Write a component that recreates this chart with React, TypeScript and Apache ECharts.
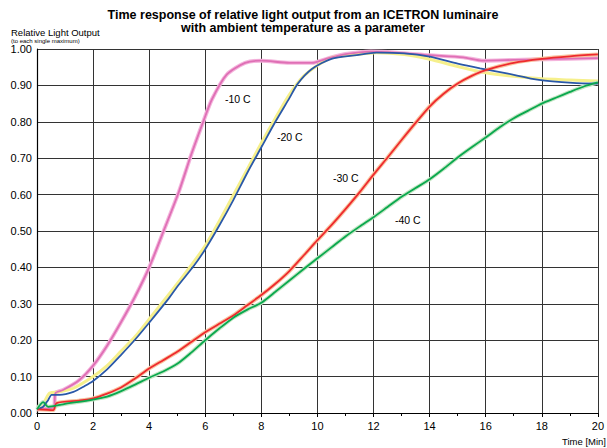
import React, { useEffect, useRef } from "react";
import * as echarts from "echarts";

// Time [min] vs relative light output
const minus10: [number, number][] = [
  [0, 0.01], [0.3, 0.012], [0.6, 0.015], [0.66, 0.055], [0.93, 0.063], [1.5, 0.09], [2, 0.13],
  [2.5, 0.185], [3, 0.25], [3.5, 0.32], [4, 0.4], [4.53, 0.503], [5.06, 0.608], [5.5, 0.71],
  [5.95, 0.805], [6.24, 0.862], [6.77, 0.93], [7.42, 0.962], [8, 0.968], [9, 0.962],
  [9.8, 0.962], [10.4, 0.975], [11, 0.986], [11.9, 0.993], [12.8, 0.99], [14, 0.983],
  [15.2, 0.977], [15.9, 0.968], [17, 0.97], [18.2, 0.972], [20, 0.975],
];
const minus20: [number, number][] = [
  [0, 0.01], [0.22, 0.017], [0.4, 0.036], [0.52, 0.05], [0.8, 0.05], [1.3, 0.058], [1.7, 0.074],
  [2, 0.088], [2.5, 0.12], [3, 0.16], [3.5, 0.202], [4, 0.248], [4.65, 0.31], [5, 0.347],
  [5.6, 0.405], [6, 0.45], [6.5, 0.515], [7, 0.585], [7.5, 0.66], [8, 0.73], [8.5, 0.8],
  [9, 0.865], [9.3, 0.905], [9.8, 0.945], [10.5, 0.973], [11.4, 0.983], [12.1, 0.99],
  [13.1, 0.988], [14, 0.979], [15, 0.96], [15.8, 0.947], [16.75, 0.933], [17.9, 0.915],
  [19.1, 0.907], [20, 0.905],
];
const minus20Raw: [number, number][] = [
  [0, 0.012], [0.25, 0.03], [0.45, 0.055], [0.8, 0.058], [1.3, 0.068], [2, 0.1], [2.5, 0.13],
  [3, 0.17], [3.5, 0.21], [4, 0.258], [5, 0.355], [6, 0.46], [7, 0.598], [8, 0.742], [8.5, 0.81],
  [9, 0.875], [9.5, 0.925], [10, 0.955], [10.5, 0.976], [11.4, 0.985], [12.1, 0.99],
  [13.1, 0.985], [14, 0.972], [15, 0.952], [16, 0.935], [17, 0.925], [18, 0.918], [19, 0.915],
  [20, 0.912],
];
const minus30: [number, number][] = [
  [0, 0.01], [0.58, 0.008], [0.7, 0.027], [1.5, 0.034], [2, 0.04], [2.5, 0.053], [3, 0.07],
  [3.5, 0.095], [4, 0.122], [4.5, 0.145], [5, 0.168], [5.5, 0.195], [6, 0.222], [6.5, 0.245],
  [7, 0.268], [7.5, 0.296], [8, 0.324], [8.5, 0.355], [9, 0.39], [9.5, 0.432], [10, 0.475],
  [10.5, 0.516], [11, 0.56], [11.5, 0.606], [12, 0.655], [12.5, 0.702], [13, 0.75], [13.5, 0.797],
  [14, 0.842], [14.5, 0.877], [15, 0.905], [15.5, 0.926], [16, 0.942], [17, 0.962], [18, 0.973],
  [19, 0.98], [20, 0.985],
];
const minus40: [number, number][] = [
  [0, 0.01], [0.22, 0.03], [0.4, 0.017], [0.93, 0.024], [2, 0.037], [2.5, 0.045], [3, 0.06],
  [3.5, 0.078], [4, 0.097], [4.5, 0.114], [5, 0.135], [5.5, 0.166], [6, 0.2], [6.5, 0.232],
  [7, 0.262], [7.5, 0.284], [8, 0.303], [8.5, 0.333], [9, 0.364], [9.5, 0.395], [10, 0.425],
  [10.5, 0.455], [11, 0.485], [11.5, 0.512], [12, 0.538], [12.5, 0.566], [13, 0.594], [13.5, 0.618],
  [14, 0.642], [14.5, 0.671], [15, 0.702], [15.5, 0.73], [16, 0.757], [16.5, 0.785], [17, 0.81],
  [17.5, 0.83], [18, 0.85], [18.5, 0.866], [19, 0.882], [19.5, 0.897], [20, 0.908],
];

const xTicks = { min: 0, max: 20, interval: 2 };
const yTicks = { min: 0, max: 1, interval: 0.1 };

const seriesLabels = [
  { text: "-10 C", x: 225, y: 99 },
  { text: "-20 C", x: 277, y: 137 },
  { text: "-30 C", x: 333, y: 178 },
  { text: "-40 C", x: 395, y: 220 },
];

const FONT = "'Liberation Sans', Arial, Helvetica, sans-serif";

function line(name: string, data: [number, number][], color: string, width: number, z: number) {
  return {
    name,
    type: "line",
    data,
    smooth: 0.25,
    showSymbol: false,
    symbol: "none",
    z,
    lineStyle: { color, width },
    emphasis: { disabled: true },
  };
}

export default function App() {
  const ref = useRef<HTMLDivElement>(null);
  useEffect(() => {
    if (!ref.current) return;
    const chart = echarts.init(ref.current, null, { renderer: "svg" });
    chart.setOption({
      animation: false,
      backgroundColor: "#ffffff",
      grid: { left: 37, right: 5, top: 49, bottom: 35 },
      xAxis: {
        type: "value",
        ...xTicks,
        axisLine: { show: true, onZero: false, lineStyle: { color: "#000", width: 1.2 } },
        axisTick: { show: true, length: 4, lineStyle: { color: "#000" } },
        minorTick: { show: true, splitNumber: 2, length: 3, lineStyle: { color: "#000" } },
        splitLine: { show: true, lineStyle: { color: "#333", width: 1 } },
        axisLabel: { color: "#000", fontSize: 11, fontFamily: FONT, margin: 7 },
      },
      yAxis: {
        type: "value",
        ...yTicks,
        axisLine: { show: true, lineStyle: { color: "#000", width: 1.2 } },
        axisTick: { show: false },
        splitLine: { show: true, lineStyle: { color: "#333", width: 1 } },
        axisLabel: {
          color: "#000",
          fontSize: 11,
          fontFamily: FONT,
          margin: 5,
          formatter: (v: number) => v.toFixed(2),
        },
      },
      series: [
        line("-10 C raw", minus10, "#f4b4dc", 4, 1),
        line("-20 C raw", minus20Raw, "#f6f08c", 3, 1),
        line("-30 C raw", minus30, "#f9c4a0", 4, 1),
        line("-40 C raw", minus40, "#c4e6c4", 4, 1),
        line("-10 C", minus10, "#df6fb5", 1.8, 3),
        line("-20 C", minus20, "#2a58a8", 1.8, 3),
        line("-30 C", minus30, "#ee2a2e", 1.8, 3),
        line("-40 C", minus40, "#0aa84e", 1.8, 3),
      ],
      graphic: [
        {
          type: "text",
          style: {
            text: "Time response of relative light output from an ICETRON luminaire",
            x: 303,
            y: 15,
            textAlign: "center",
            textVerticalAlign: "middle",
            fontSize: 12.5,
            fontWeight: "bold",
            fontFamily: FONT,
            fill: "#000",
          },
        },
        {
          type: "text",
          style: {
            text: "with ambient temperature as a parameter",
            x: 303,
            y: 28,
            textAlign: "center",
            textVerticalAlign: "middle",
            fontSize: 12.5,
            fontWeight: "bold",
            fontFamily: FONT,
            fill: "#000",
          },
        },
        {
          type: "text",
          style: {
            text: "Relative Light Output",
            x: 11,
            y: 32.5,
            textVerticalAlign: "middle",
            fontSize: 9.5,
            fontFamily: FONT,
            fill: "#000",
          },
        },
        {
          type: "text",
          style: {
            text: "(to each single maximum)",
            x: 11,
            y: 41,
            textVerticalAlign: "middle",
            fontSize: 6,
            fontFamily: FONT,
            fill: "#000",
          },
        },
        {
          type: "text",
          style: {
            text: "Time [Min]",
            x: 606,
            y: 441,
            textAlign: "right",
            textVerticalAlign: "middle",
            fontSize: 9.5,
            fontFamily: FONT,
            fill: "#000",
          },
        },
        ...seriesLabels.map((l) => ({
          type: "text",
          z: 10,
          style: {
            text: l.text,
            x: l.x,
            y: l.y,
            textVerticalAlign: "middle",
            fontSize: 10.5,
            fontFamily: FONT,
            fill: "#000",
          },
        })),
      ],
    });
    return () => chart.dispose();
  }, []);
  return <div ref={ref} style={{ width: 607, height: 448, position: "absolute", left: 0, top: 0 }} />;
}
